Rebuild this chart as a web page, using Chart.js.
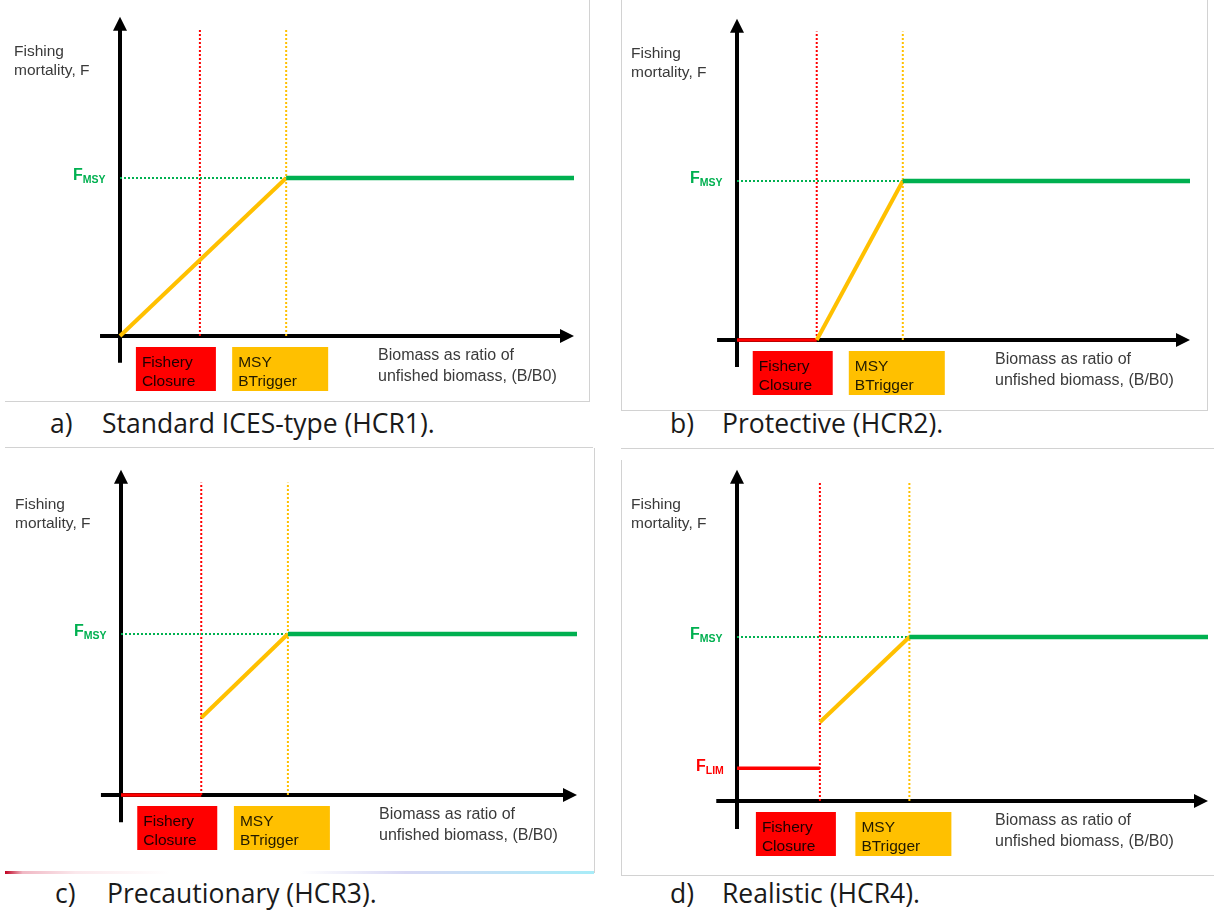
<!DOCTYPE html>
<html><head><meta charset="utf-8">
<script src="https://cdn.jsdelivr.net/npm/chart.js@4.4.0/dist/chart.umd.min.js"></script>
<style>
html,body{margin:0;padding:0;background:#fff;width:1214px;height:911px;overflow:hidden;position:relative;font-family:"Liberation Sans",Arial,sans-serif}
.panel{position:absolute}
.panel canvas{display:block}
.cap{position:absolute;font-family:"Open Sans",sans-serif;font-size:26.5px;line-height:1;color:#1a1a1a;white-space:pre}
.ln{position:absolute;background:#d2d2d2}
</style></head><body>
<div class="ln" style="left:589px;top:0;width:1px;height:401px"></div>
<div class="ln" style="left:5px;top:401px;width:585px;height:1px"></div>
<div class="ln" style="left:5px;top:447px;width:588px;height:1px"></div>
<div class="ln" style="left:621px;top:0;width:1px;height:410px"></div>
<div class="ln" style="left:1207px;top:0;width:1px;height:410px"></div>
<div class="ln" style="left:621px;top:410px;width:587px;height:1px"></div>
<div class="ln" style="left:621px;top:448px;width:593px;height:1px"></div>
<div class="ln" style="left:594px;top:448px;width:1px;height:425px"></div>
<div style="position:absolute;left:5px;top:871px;width:589px;height:3px;background:linear-gradient(to right,#c00020 0,#f0b8c4 3%,#fbe8ec 12%,#ffffff 28%,#ffffff 50%,#d8d8f4 68%,#a8ecf8 100%)"></div>
<div class="ln" style="left:621px;top:460px;width:1px;height:415px"></div>
<div class="ln" style="left:621px;top:875px;width:593px;height:1px"></div>
<div id="wrap"></div>
<script>
// ---- data ----
const panelLetters = ['a)', 'b)', 'c)', 'd)'];
const panelTitles = ['Standard ICES-type (HCR1).', 'Protective (HCR2).', 'Precautionary (HCR3).', 'Realistic (HCR4).'];
const refPointsB = [0.176, 0.366];          // Fishery closure (Blim), MSY Btrigger, as B/B0
const bEnd = 1.0;                            // right end of the plateau
const fMsy = 1.0;                            // F_MSY (relative units)
const closureF = [null, 0, 0, 0.20];         // F below the closure point (null = none)
const rampStartB = [0, 0.176, 0.176, 0.176]; // where the orange ramp starts (B)
const rampStartF = [0, 0, 0.48, 0.48];       // F at the start of the ramp
const hasFlimLabel = [false, false, false, true];
const refBoxLabels = [['Fishery', 'Closure'], ['MSY', 'BTrigger']];
const yTitle = ['Fishing', 'mortality, F'];
const xTitle = ['Biomass as ratio of', 'unfished biomass, (B/B0)'];

// ---- layout (pixels) ----
const layout = [
  {left:0,   top:0,   w:600, h:405, ox:120, oy:336, pxB:454, pxF:158, capX:50,  capY:409.5},
  {left:610, top:0,   w:604, h:405, ox:737, oy:340, pxB:453, pxF:159, capX:670, capY:409.5},
  {left:0,   top:448, w:600, h:420, ox:121, oy:795, pxB:456, pxF:161, capX:55,  capY:879.5},
  {left:610, top:448, w:604, h:420, ox:737, oy:801, pxB:471, pxF:164, capX:670, capY:879.5}
];
const Y_MAX = 2.1, TIP_F = 2.02, GUIDE_TOP_F = 1.94, Y_BOTTOM_F = -0.17, X_START_B = -0.044;
const GREEN = '#00B050', ORANGE = '#FFC000', RED = '#FF0000', TXT = '#3a3a3a';
const FONT = '"Liberation Sans", Arial, sans-serif';

const axesPlugin = {
  id: 'hcrAxes',
  beforeDatasetsDraw(chart) {
    const {ctx, scales:{x, y}} = chart;
    ctx.save();
    ctx.strokeStyle = '#000'; ctx.fillStyle = '#000'; ctx.lineWidth = 4; ctx.lineCap = 'butt';
    const x0 = x.getPixelForValue(0), y0 = y.getPixelForValue(0);
    const yTop = y.getPixelForValue(TIP_F), yBot = y.getPixelForValue(Y_BOTTOM_F);
    const xL = x.getPixelForValue(X_START_B), xR = x.getPixelForValue(bEnd);
    ctx.beginPath(); ctx.moveTo(x0, yBot); ctx.lineTo(x0, yTop + 10); ctx.stroke();
    ctx.beginPath(); ctx.moveTo(x0, yTop); ctx.lineTo(x0 - 7, yTop + 14); ctx.lineTo(x0 + 7, yTop + 14); ctx.closePath(); ctx.fill();
    ctx.beginPath(); ctx.moveTo(xL, y0); ctx.lineTo(xR - 10, y0); ctx.stroke();
    ctx.beginPath(); ctx.moveTo(xR, y0); ctx.lineTo(xR - 14, y0 - 7); ctx.lineTo(xR - 14, y0 + 7); ctx.closePath(); ctx.fill();
    ctx.restore();
  },
  afterDatasetsDraw(chart, args, opts) {
    const {ctx, scales:{x, y}} = chart;
    const i = opts.idx;
    const x0 = x.getPixelForValue(0), y0 = y.getPixelForValue(0);
    const yTop = y.getPixelForValue(TIP_F);
    ctx.save();
    ctx.textBaseline = 'alphabetic'; ctx.textAlign = 'left';
    ctx.fillStyle = TXT;
    ctx.font = '15.5px ' + FONT;
    ctx.fillText(yTitle[0], x0 - 106, yTop + 39);
    ctx.fillText(yTitle[1], x0 - 106, yTop + 58);
    ctx.font = '16px ' + FONT;
    ctx.fillText(xTitle[0], x0 + 258, y0 + 24);
    ctx.fillText(xTitle[1], x0 + 258, y0 + 45);
    const sub = (main, s, px, py, col) => {
      ctx.fillStyle = col;
      ctx.font = 'bold 16px ' + FONT;
      ctx.fillText(main, px, py);
      const w = ctx.measureText(main).width;
      ctx.font = 'bold 10.5px ' + FONT;
      ctx.fillText(s, px + w, py + 3);
    };
    sub('F', 'MSY', x0 - 47, y.getPixelForValue(fMsy) + 2, GREEN);
    if (hasFlimLabel[i]) sub('F', 'LIM', x0 - 41, y.getPixelForValue(closureF[i]) + 3, RED);
    const boxes = [
      {b: refPointsB[0], dx: -64, w: 80, col: RED, tc: '#1e0000'},
      {b: refPointsB[1], dx: -54, w: 96, col: ORANGE, tc: '#221a00'}
    ];
    boxes.forEach((bx, k) => {
      const bxL = x.getPixelForValue(bx.b) + bx.dx, bxT = y0 + 11;
      ctx.fillStyle = bx.col; ctx.fillRect(bxL, bxT, bx.w, 44);
      ctx.fillStyle = bx.tc; ctx.font = '15.5px ' + FONT;
      ctx.fillText(refBoxLabels[k][0], bxL + 6, bxT + 20);
      ctx.fillText(refBoxLabels[k][1], bxL + 6, bxT + 39);
    });
    ctx.restore();
  }
};

const wrap = document.getElementById('wrap');
layout.forEach((L, i) => {
  const div = document.createElement('div');
  div.className = 'panel';
  div.style.cssText = `left:${L.left}px;top:${L.top}px;width:${L.w}px;height:${L.h}px`;
  const cv = document.createElement('canvas');
  cv.width = L.w; cv.height = L.h;
  div.appendChild(cv); wrap.appendChild(div);
  const capL = document.createElement('div');
  capL.className = 'cap';
  capL.style.cssText = `left:${L.capX}px;top:${L.capY}px`;
  capL.textContent = panelLetters[i];
  document.body.appendChild(capL);
  const capT = document.createElement('div');
  capT.className = 'cap';
  capT.style.cssText = `left:${L.capX + 52}px;top:${L.capY}px`;
  capT.textContent = panelTitles[i];
  document.body.appendChild(capT);

  const padL = L.ox - L.left, padR = L.w - (L.ox + L.pxB - L.left);
  const padB = L.h - (L.oy - L.top), padT = (L.oy - L.top) - Y_MAX * L.pxF;

  const ds = [];
  const line = (data, color, width, dash) => ({data, borderColor: color, borderWidth: width, borderDash: dash || [],
    showLine: true, pointRadius: 0, fill: false, clip: false, tension: 0, borderCapStyle: 'butt'});
  ds.push(line([{x: refPointsB[1], y: fMsy}, {x: bEnd, y: fMsy}], GREEN, 4.5));
  ds.push(line([{x: rampStartB[i], y: rampStartF[i]}, {x: refPointsB[1], y: fMsy}], ORANGE, 4));
  if (closureF[i] !== null) ds.push(line([{x: 0, y: closureF[i]}, {x: refPointsB[0], y: closureF[i]}], RED, 3.5));
  ds.push(line([{x: 0, y: fMsy}, {x: refPointsB[1], y: fMsy}], GREEN, 2, [2, 2]));
  ds.push(line([{x: refPointsB[0], y: 0}, {x: refPointsB[0], y: GUIDE_TOP_F}], RED, 2, [2, 2]));
  ds.push(line([{x: refPointsB[1], y: 0}, {x: refPointsB[1], y: GUIDE_TOP_F}], ORANGE, 2, [2, 2]));

  new Chart(cv, {
    type: 'scatter',
    data: {datasets: ds},
    options: {
      responsive: false, animation: false, devicePixelRatio: 1,
      layout: {padding: {left: padL, right: padR, top: padT, bottom: padB}},
      scales: {
        x: {type: 'linear', min: 0, max: bEnd, display: false},
        y: {type: 'linear', min: 0, max: Y_MAX, display: false}
      },
      plugins: {legend: {display: false}, tooltip: {enabled: false}, hcrAxes: {idx: i}}
    },
    plugins: [axesPlugin]
  });
});
</script>
</body></html>
